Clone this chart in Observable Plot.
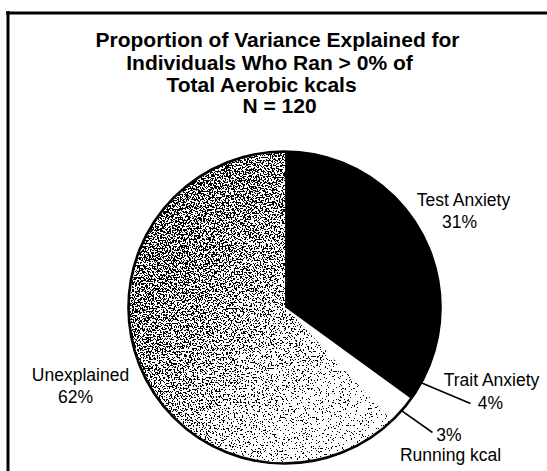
<!DOCTYPE html>
<html><head><meta charset="utf-8">
<script src="https://cdn.jsdelivr.net/npm/d3@7"></script>
<script src="https://cdn.jsdelivr.net/npm/@observablehq/plot@0.6"></script>
<style>
html,body{margin:0;padding:0;background:#fff;overflow:hidden;}
#chart svg{display:block;}
</style>
</head><body>
<div id="chart"></div>
<script>
// ---- data ----
const categories = ["Test Anxiety", "Trait Anxiety", "Running kcal", "Unexplained"];
const percents = [31, 4, 3, 62];
const titleLines = [
  "Proportion of Variance Explained for",
  "Individuals Who Ran > 0% of",
  "Total Aerobic kcals",
  "N = 120"
];

// ---- layout / style ----
const W = 547, H = 471;
const pie = {cx: 284, cy: 307, r: 156};
const sliceFill = ["black", "black", "white", "url(#unexGrad)"];
const titleLayout = [[277, 46.5], [269, 69], [261, 91], [279, 112.5]];
const labelLayout = {
  "Test Anxiety": {name: [463, 205.5], pct: [459, 227]},
  "Trait Anxiety": {name: [491, 385], pct: [490, 408], leader: [470, 403]},
  "Running kcal": {name: [450, 460], pct: [448.5, 440], leader: [432, 432]},
  "Unexplained": {name: [80, 380.5], pct: [75, 402]}
};
const font = "Liberation Sans, Arial, Helvetica, sans-serif";

// ---- geometry from data ----
const arcs = d3.pie().sort(null).value(d => d)(percents);
const polar = (a, r) => ({x: pie.cx + r * Math.sin(a), y: pie.cy - r * Math.cos(a)});
const slicePts = [];
arcs.forEach((a, i) => {
  const k = categories[i];
  slicePts.push({k, x: pie.cx, y: pie.cy});
  const step = Math.PI / 720;
  for (let t = a.startAngle; t < a.endAngle; t += step) slicePts.push({k, ...polar(t, pie.r)});
  slicePts.push({k, ...polar(a.endAngle, pie.r)});
});

const leaders = [];
const labels = [];
arcs.forEach((a, i) => {
  const k = categories[i];
  const L = labelLayout[k];
  labels.push({text: k, x: L.name[0], y: L.name[1]});
  labels.push({text: percents[i] + "%", x: L.pct[0], y: L.pct[1]});
  if (L.leader) {
    const p = polar((a.startAngle + a.endAngle) / 2, pie.r);
    leaders.push({x1: p.x, y1: p.y, x2: L.leader[0], y2: L.leader[1]});
  }
});
const titleRows = titleLines.map((t, i) => ({text: t, x: titleLayout[i][0], y: titleLayout[i][1]}));

const chart = Plot.plot({
  width: W, height: H, margin: 0,
  style: {background: "white", overflow: "hidden"},
  x: {domain: [0, W], range: [0, W], axis: null},
  y: {domain: [0, H], range: [0, H], axis: null},
  color: {domain: categories, range: sliceFill},
  marks: [
    Plot.ruleY([12.5], {x1: 6, x2: W + 20, stroke: "black", strokeWidth: 3}),
    Plot.ruleX([7.5], {y1: 11, y2: H + 20, stroke: "black", strokeWidth: 3}),
    Plot.line(slicePts, {x: "x", y: "y", z: "k", fill: "k", stroke: "k", strokeWidth: 1.2, curve: "linear-closed"}),
    Plot.dot([pie], {x: "cx", y: "cy", r: pie.r, stroke: "black", strokeWidth: 2.6, fill: "none"}),
    Plot.link(leaders, {x1: "x1", y1: "y1", x2: "x2", y2: "y2", stroke: "black", strokeWidth: 1.6}),
    Plot.text(titleRows, {x: "x", y: "y", text: "text", fontSize: 21, fontWeight: "bold", fontFamily: font, textAnchor: "middle", lineAnchor: "bottom", fill: "black"}),
    Plot.text(labels, {x: "x", y: "y", text: "text", fontSize: 17.5, fontFamily: font, textAnchor: "middle", lineAnchor: "bottom", fill: "black"})
  ]
});

// texture definitions (gradient + stipple filter) for the "Unexplained" slice
const defs = d3.select(chart).insert("defs", ":first-child");
const grad = defs.append("linearGradient").attr("id", "unexGrad")
  .attr("x1", 0.05).attr("y1", 0.1).attr("x2", 0.9).attr("y2", 0.9);
[[0, 112], [0.3, 138], [0.55, 182], [0.75, 228], [1, 252]].forEach(([o, v]) =>
  grad.append("stop").attr("offset", o).attr("stop-color", `rgb(${v},${v},${v})`));
const filt = defs.append("filter").attr("id", "grain").attr("x", 0).attr("y", 0)
  .attr("width", 1).attr("height", 1).attr("color-interpolation-filters", "sRGB");
filt.append("feTurbulence").attr("type", "fractalNoise").attr("baseFrequency", 0.65)
  .attr("numOctaves", 2).attr("seed", 7).attr("result", "t");
filt.append("feColorMatrix").attr("in", "t").attr("type", "matrix")
  .attr("values", "-3 0 0 0 2  -3 0 0 0 2  -3 0 0 0 2  0 0 0 0 1").attr("result", "n");
filt.append("feComposite").attr("in", "SourceGraphic").attr("in2", "n").attr("operator", "arithmetic")
  .attr("k1", 0).attr("k2", 0.5).attr("k3", 0.5).attr("k4", 0).attr("result", "m");
const ct = filt.append("feComponentTransfer").attr("in", "m").attr("result", "b");
["feFuncR", "feFuncG", "feFuncB"].forEach(f => ct.append(f).attr("type", "discrete").attr("tableValues", "0 1"));
ct.append("feFuncA").attr("type", "discrete").attr("tableValues", "1 1");
filt.append("feComposite").attr("in", "b").attr("in2", "SourceGraphic").attr("operator", "in");

d3.select(chart).selectAll("path")
  .filter(function() { return this.getAttribute("fill") === "url(#unexGrad)"; })
  .attr("filter", "url(#grain)");
document.getElementById("chart").appendChild(chart);
</script>
</body></html>
